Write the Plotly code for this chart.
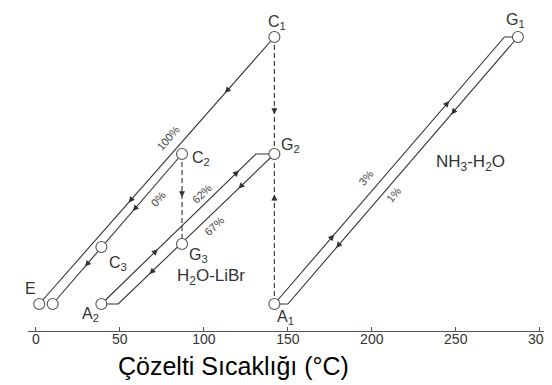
import math
import plotly.graph_objects as go

# ---------------- data ----------------
# x axis: solution temperature (°C); y: relative pressure level (no scale shown)
tick_values = [0, 50, 100, 150, 200, 250, 300]
tick_labels = ["0", "50", "100", "150", "200", "250", "300"]

# state points (circles)
point_names = ["E", "E0", "A2", "C3", "C2", "G3", "G2", "C1", "A1", "G1"]
point_temp = [2, 10, 39, 39, 87, 87, 142, 142, 142, 287]
point_level = [0.9, 0.9, 0.9, 2.8, 5.9, 2.9, 5.9, 9.8, 0.9, 9.8]

# bends of the solution lines (no circle)
bend_names = ["K62", "K67", "K3", "K1"]
bend_temp = [131, 49, 279, 150]
bend_level = [5.9, 0.9, 9.8, 0.9]

# solution lines: node sequence and concentration label
path_100 = ["C1", "E"]
path_0 = ["C2", "E0"]
path_62 = ["A2", "K62", "G2"]
path_67 = ["G2", "K67", "A2"]
path_3 = ["A1", "K3", "G1"]
path_1 = ["G1", "K1", "A1"]
line_paths = [path_100, path_0, path_62, path_67, path_3, path_1]
line_labels = ["100%", "0%", "62%", "67%", "3%", "1%"]

# refrigerant transfer (dashed)
dashed_paths = [["C1", "G2"], ["C2", "G3"], ["A1", "G2"]]

point_labels = {"E": "E", "A2": "A<sub>2</sub>", "C3": "C<sub>3</sub>", "C2": "C<sub>2</sub>",
                "G3": "G<sub>3</sub>", "G2": "G<sub>2</sub>", "C1": "C<sub>1</sub>",
                "A1": "A<sub>1</sub>", "G1": "G<sub>1</sub>"}

# ---------------- layout helpers ----------------
W, H = 552, 385
ML, MR, MT, MB = 20, 6, 5, 62
XR = [-4.7, 308.5]
YR = [0, 10.6]
KX = (W - ML - MR) / (XR[1] - XR[0])
KY = (H - MT - MB) / (YR[1] - YR[0])

nodes = {}
for n, t, l in zip(point_names, point_temp, point_level):
    nodes[n] = (t, l)
for n, t, l in zip(bend_names, bend_temp, bend_level):
    nodes[n] = (t, l)

LINE = "#333333"
TXT = "#333333"
FONT = "Arial, Liberation Sans, sans-serif"

fig = go.Figure()

for p in line_paths:
    fig.add_trace(go.Scatter(x=[nodes[n][0] for n in p], y=[nodes[n][1] for n in p],
                             mode="lines", line=dict(color=LINE, width=1.1),
                             hoverinfo="skip", showlegend=False))
for p in dashed_paths:
    fig.add_trace(go.Scatter(x=[nodes[n][0] for n in p], y=[nodes[n][1] for n in p],
                             mode="lines", line=dict(color=LINE, width=1.1, dash="5px,3px"),
                             hoverinfo="skip", showlegend=False))

fig.add_trace(go.Scatter(x=point_temp, y=point_level, mode="markers",
                         marker=dict(size=11, color="white", line=dict(color="#555555", width=1.1)),
                         hoverinfo="skip", showlegend=False))


def screen_dir(a, b):
    dx = (nodes[b][0] - nodes[a][0]) * KX
    dy = -(nodes[b][1] - nodes[a][1]) * KY
    L = math.hypot(dx, dy)
    return dx / L, dy / L


def along(a, b, f):
    return (nodes[a][0] + f * (nodes[b][0] - nodes[a][0]),
            nodes[a][1] + f * (nodes[b][1] - nodes[a][1]))


def arrow(a, b, f, length=8):
    x, y = along(a, b, f)
    ux, uy = screen_dir(a, b)
    fig.add_annotation(x=x, y=y, ax=-ux * length, ay=-uy * length, text="",
                       showarrow=True, arrowhead=2, arrowsize=1.1, arrowwidth=1.1,
                       arrowcolor=LINE, standoff=0)


arrow_spec = [("C1", "E", [0.21, 0.62]), ("C2", "E0", [0.38, 0.75]),
              ("A2", "K62", [0.365, 0.89]), ("G2", "K67", [0.23, 0.8]),
              ("A1", "K3", [0.26, 0.76]), ("G1", "K1", [0.29, 0.79]),
              ("C1", "G2", [0.66]), ("C2", "G3", [0.48]), ("A1", "G2", [0.73])]
for a, b, fs in arrow_spec:
    for f in fs:
        arrow(a, b, f)

# concentration labels along the lines
label_spec = [("C1", "E", 0.41, 13), ("C2", "E0", 0.25, -11), ("A2", "K62", 0.69, 9),
              ("G2", "K67", 0.43, -10), ("A1", "K3", 0.44, 13), ("G1", "K1", 0.57, -9)]
for (a, b, f, d), txt in zip(label_spec, line_labels):
    x, y = along(a, b, f)
    ux, uy = screen_dir(a, b)
    if ux < 0:
        ux, uy = -ux, -uy
    nx, ny = uy, -ux  # upper-left normal (screen coords)
    ang = math.degrees(math.atan2(uy, ux))
    fig.add_annotation(x=x, y=y, text=txt, showarrow=False, textangle=ang,
                       xshift=d * nx, yshift=-d * ny,
                       font=dict(family=FONT, size=11, color="#444444"))

# state point names
label_shift = {"E": (-9, 16), "A2": (-11, -10), "C3": (17, -16), "C2": (19, -4),
               "G3": (16, -11), "G2": (16, 9), "C1": (3, 15), "A1": (11, -13), "G1": (-2, 17)}
for n, txt in point_labels.items():
    dx, dy = label_shift[n]
    fig.add_annotation(x=nodes[n][0], y=nodes[n][1], text=txt, showarrow=False,
                       xshift=dx, yshift=dy, font=dict(family=FONT, size=16, color=TXT))

fig.add_annotation(x=104, y=1.8, text="H<sub>2</sub>O-LiBr", showarrow=False,
                   font=dict(family=FONT, size=17, color=TXT))
fig.add_annotation(x=259, y=5.6, text="NH<sub>3</sub>-H<sub>2</sub>O", showarrow=False,
                   font=dict(family=FONT, size=17, color=TXT))

# axis arrow head
fig.add_annotation(x=XR[1], y=0, ax=-10, ay=0, text="", showarrow=True, arrowhead=2,
                   arrowsize=1, arrowwidth=1, arrowcolor="#555555", standoff=0)

# axis title
fig.add_annotation(x=0.39, y=-0.111, xref="paper", yref="paper", text="Çözelti Sıcaklığı (°C)",
                   showarrow=False, yanchor="middle",
                   font=dict(family=FONT, size=25, color="black"))

fig.update_layout(
    width=W, height=H, margin=dict(l=ML, r=MR, t=MT, b=MB),
    paper_bgcolor="white", plot_bgcolor="white",
    xaxis=dict(range=XR, tickvals=tick_values, ticktext=tick_labels, showgrid=False,
               zeroline=False, showline=True, linecolor="#555555", linewidth=1,
               ticks="inside", ticklen=4, tickcolor="#555555", ticklabelstandoff=-5,
               ticklabeloverflow="allow",
               tickfont=dict(family=FONT, size=14, color=TXT)),
    yaxis=dict(range=YR, visible=False, showgrid=False, zeroline=False),
)

fig.write_html("out.html")
